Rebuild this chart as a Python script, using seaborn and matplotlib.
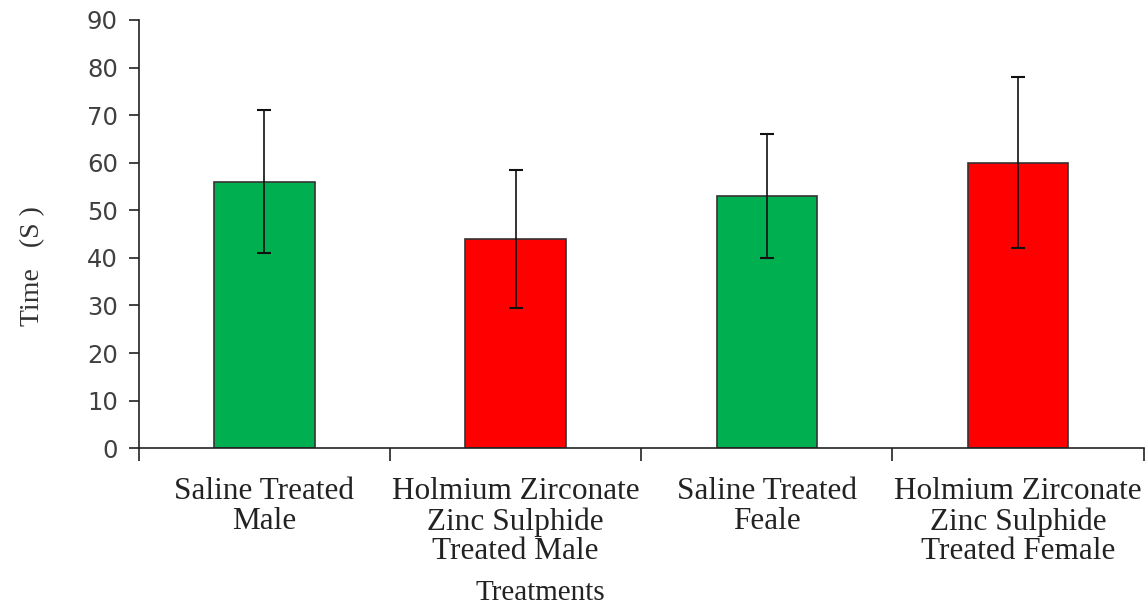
import matplotlib
matplotlib.use("Agg")
import matplotlib.pyplot as plt
import seaborn as sns
import pandas as pd
import numpy as np

# data
treatments = [
    "Saline Treated\nMale",
    "Holmium Zirconate\nZinc Sulphide\nTreated Male",
    "Saline Treated\nFeale",
    "Holmium Zirconate\nZinc Sulphide\nTreated Female",
]
group = ["Saline", "Holmium", "Saline", "Holmium"]
time_mean = [56, 44, 53, 60]
time_err = [15, 14.5, 13, 18]
y_ticks = list(range(0, 100, 10))

palette = {"Saline": "#00B050", "Holmium": "#FF0000"}

df = pd.DataFrame({"treatment": treatments, "group": group, "time": time_mean})

sns.set_style("white")
plt.rcParams["font.family"] = ["Liberation Serif", "DejaVu Serif"]

fig = plt.figure(figsize=(11.46, 6.04), dpi=100)
ax = fig.add_axes([0.121, 0.258, 0.877, 0.709])

sns.barplot(data=df, x="treatment", y="time", hue="group", palette=palette,
            dodge=False, width=0.4, saturation=1, edgecolor="#333333",
            linewidth=1.2, legend=False, ax=ax)

ax.errorbar(np.arange(len(treatments)), time_mean, yerr=time_err, fmt="none",
            ecolor="#111111", elinewidth=1.2, capsize=5, capthick=1.5)

ax.set_xlim(-0.5, len(treatments) - 0.5)
ax.set_ylim(0, 90)
ax.set_yticks(y_ticks)
ax.set_yticklabels([str(v) for v in y_ticks], fontfamily="DejaVu Sans")

# category boundaries carry the tick marks, labels sit between them
ax.set_xticks(np.arange(len(treatments) + 1) - 0.5)
ax.set_xticklabels([])
ax.set_xticks(np.arange(len(treatments)), minor=True)
ax.set_xticklabels(treatments, minor=True, fontsize=22.5, linespacing=1.03)
ax.tick_params(axis="x", which="minor", bottom=False, pad=19,
               labelcolor="#222222")
ax.tick_params(axis="x", which="major", bottom=True, length=9, width=1.2,
               direction="out", color="#222222")
ax.tick_params(axis="y", left=True, length=7, width=1.2, direction="out",
               color="#222222", labelsize=17.5, labelcolor="#404040", pad=8)

for s in ["top", "right"]:
    ax.spines[s].set_visible(False)
for s in ["left", "bottom"]:
    ax.spines[s].set_color("#222222")
    ax.spines[s].set_linewidth(1.2)

ax.set_ylabel("Time   (S )", fontsize=20, color="#333333", va="center")
ax.yaxis.set_label_coords(-0.106, 0.425)
ax.set_xlabel("Treatments", fontsize=21, color="#222222", va="center")
ax.xaxis.set_label_coords(0.40, -0.338)

fig.savefig("out.png", dpi=100)
